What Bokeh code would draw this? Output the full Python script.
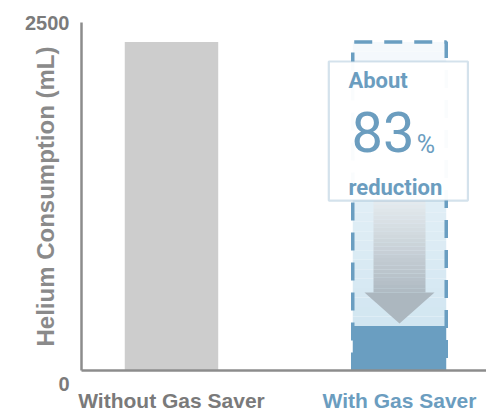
from bokeh.plotting import figure
from bokeh.models import Range1d, FixedTicker, Label, BoxAnnotation, LinearAxis
from bokeh.embed import file_html
from bokeh.resources import INLINE

# ---- data ----
categories = ["Without Gas Saver", "With Gas Saver"]
positions = [1, 2]
consumption = [2360, 320]          # mL
y_ticks = [0, 2500]
y_tick_labels = ["0", "2500"]
y_title = "Helium Consumption (mL)"
reduction_pct = "83"

GRAY = "#cdcdcd"
BLUE = "#6a9ec1"
TXT_BLUE = "#6b9dbf"
AX = "#8c8c8c"

p = figure(width=486, height=414, output_backend="svg", toolbar_location=None,
           x_range=Range1d(0.6053, 2.3816), y_range=Range1d(0, 2500),
           min_border_left=81, min_border_right=0, min_border_top=22, min_border_bottom=44)
p.outline_line_color = None
p.grid.visible = False
p.background_fill_color = "white"

W = 0.41
G = consumption[0]
B = consumption[1]
xc = positions[1]

def lerp(c1, c2, t):
    a = [int(c1[i:i + 2], 16) for i in (1, 3, 5)]
    b = [int(c2[i:i + 2], 16) for i in (1, 3, 5)]
    return "#%02x%02x%02x" % tuple(round(a[k] + (b[k] - a[k]) * t) for k in range(3))

# light-blue fading background inside the dashed outline
n = 30
bt, bb, bl, br, bc = [], [], [], [], []
for i in range(n):
    y0 = B + (G - B) * i / n
    y1 = B + (G - B) * (i + 1) / n
    bb.append(y0); bt.append(y1); bl.append(xc - W / 2); br.append(xc + W / 2)
    bc.append(lerp("#d2e6f1", "#f5f9fc", i / (n - 1)))
p.quad(left=bl, right=br, bottom=bb, top=bt, fill_color=bc, line_color=None)

# arrow shaft with gradient
shaft_top = 1221
head_base = 560
tip = B + 18
sh = 0.114
hh = 0.1535
m = 24
st, sb, sl, sr, sc = [], [], [], [], []
for i in range(m):
    y0 = head_base + (shaft_top - head_base) * i / m
    y1 = head_base + (shaft_top - head_base) * (i + 1) / m
    sb.append(y0); st.append(y1); sl.append(xc - sh); sr.append(xc + sh)
    sc.append(lerp("#b0bbc3", "#e4eaee", i / (m - 1)))
p.quad(left=sl, right=sr, bottom=sb, top=st, fill_color=sc, line_color=None)
p.patch(x=[xc - hh, xc + hh, xc], y=[head_base, head_base, tip],
        fill_color="#acb7bf", line_color=None)

# bars
p.vbar(x=[positions[1]], top=[consumption[1]], width=W, fill_color=BLUE, line_color=None)
p.line(x=[xc - W / 2, xc - W / 2, xc + W / 2, xc + W / 2], y=[0, G, G, 0],
       line_color=BLUE, line_width=3.5, line_dash="18 12")
p.vbar(x=[positions[0]], top=[consumption[0]], width=W, fill_color=GRAY, line_color=None)

# annotation box
box = BoxAnnotation(left=1.69, right=2.30, bottom=1221, top=2220,
                    fill_color="white", fill_alpha=0.97, line_color="#6f9fc0", line_width=2.2)
p.add_layout(box)
p.add_layout(Label(x=1.776, y=2080, text="About", text_font="Roboto", text_font_style="bold",
                   text_font_size="22px", text_color=TXT_BLUE, text_baseline="middle"))
p.add_layout(Label(x=1.790, y=1710, text=reduction_pct, text_font="Roboto",
                   text_font_size="56px", text_color=TXT_BLUE, text_baseline="middle"))
p.add_layout(Label(x=2.076, y=1627, text="%", text_font="Roboto",
                   text_font_size="25px", text_color=TXT_BLUE, text_baseline="middle"))
p.add_layout(Label(x=1.776, y=1315, text="reduction", text_font="Roboto", text_font_style="bold",
                   text_font_size="22px", text_color=TXT_BLUE, text_baseline="middle"))

# y axis
ya = p.yaxis[0]
ya.ticker = FixedTicker(ticks=y_ticks)
ya.major_label_overrides = {0: "\n" + y_tick_labels[0], 2500: y_tick_labels[1]}
ya.major_tick_line_color = None
ya.minor_tick_line_color = None
ya.major_tick_in = 0
ya.major_tick_out = 0
ya.axis_line_color = AX
ya.axis_line_width = 2.5
ya.major_label_standoff = 12
ya.major_label_text_font = "Liberation Sans"
ya.major_label_text_font_style = "bold"
ya.major_label_text_font_size = "20px"
ya.major_label_text_color = "#7b7b7b"
ya.axis_label = y_title
ya.axis_label_text_font = "Liberation Sans"
ya.axis_label_text_font_style = "bold"
ya.axis_label_text_font_size = "24px"
ya.axis_label_text_color = "#8a8a8a"
ya.axis_label_standoff = -37

# x axis (first category, gray)
xa = p.xaxis[0]
xa.ticker = FixedTicker(ticks=[positions[0]])
xa.major_label_overrides = {positions[0]: categories[0]}
xa.major_tick_line_color = None
xa.minor_tick_line_color = None
xa.major_tick_in = 0
xa.major_tick_out = 0
xa.axis_line_color = AX
xa.axis_line_width = 2.5
xa.major_label_standoff = 18
xa.major_label_text_font = "Liberation Sans"
xa.major_label_text_font_style = "bold"
xa.major_label_text_font_size = "21px"
xa.major_label_text_color = "#7a7a7a"

# second x axis (second category, blue) pulled up into the same row
xb = LinearAxis(ticker=FixedTicker(ticks=[positions[1]]),
                major_label_overrides={positions[1]: categories[1]})
xb.axis_line_color = None
xb.major_tick_line_color = None
xb.minor_tick_line_color = None
xb.major_tick_in = 0
xb.major_tick_out = 0
xb.major_label_standoff = -26
xb.major_label_text_font = "Liberation Sans"
xb.major_label_text_font_style = "bold"
xb.major_label_text_font_size = "21px"
xb.major_label_text_color = TXT_BLUE
p.add_layout(xb, "below")

open("out.html", "w").write(file_html(p, INLINE))
